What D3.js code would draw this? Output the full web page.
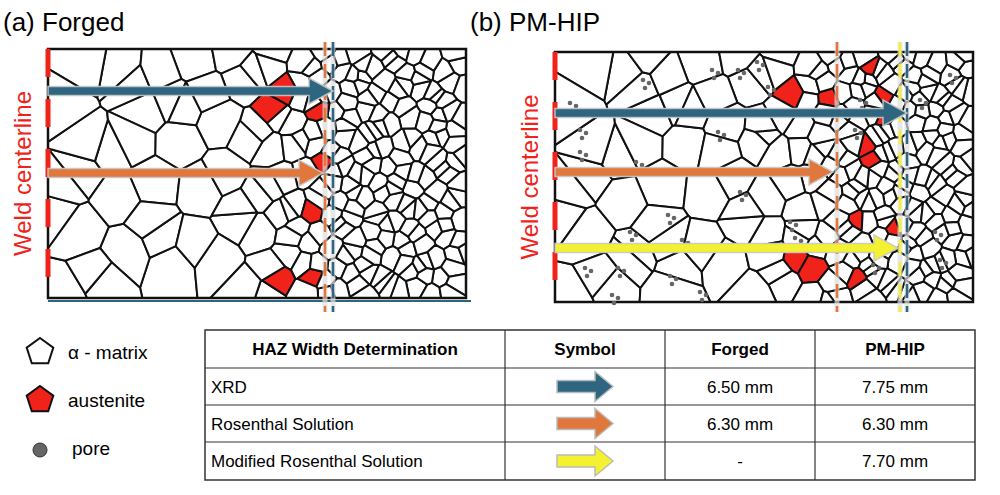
<!DOCTYPE html>
<html><head><meta charset="utf-8">
<script src="https://cdn.jsdelivr.net/npm/d3@7"></script>
<style>body{margin:0;background:#fff}svg{display:block}</style>
</head><body><svg width="1000" height="495"></svg>
<script>
const panels = [
  { id: "a", title: "(a) Forged", x0: 48, y0: 49, x1: 466, y1: 298, fineX: 338 },
  { id: "b", title: "(b) PM-HIP", x0: 555, y0: 52, x1: 973, y1: 302, fineX: 865 }
];
// arrows: [panel, colour key, y, end x]
const arrows = [
  ["a", "xrd", 91, 333], ["a", "ros", 173, 323],
  ["b", "xrd", 113, 907], ["b", "ros", 172, 833], ["b", "mod", 248, 898]
];
// dashed HAZ boundaries: [panel, colour key, x]
const bounds = [["a", "ros", 325], ["a", "xrd", 333], ["b", "ros", 837], ["b", "mod", 900], ["b", "xrd", 907]];
const colors = { xrd: "#2e6580", ros: "#e0773c", mod: "#f4f230" };
const austenite = {
  a: [[283, 80], [258, 100], [318, 105], [272, 155], [318, 165], [310, 210], [265, 240], [290, 270], [310, 278], [240, 298]],
  b: [[788, 85], [760, 95], [825, 100], [865, 72], [888, 92], [880, 125], [870, 143], [780, 158], [868, 165],
      [815, 215], [855, 222], [890, 232], [773, 240], [798, 270], [818, 278], [857, 278], [747, 298]]
};
const pores = [[570, 103], [643, 80], [580, 130], [580, 152], [636, 162], [718, 132], [712, 70], [738, 70], [757, 62],
  [768, 87], [740, 192], [668, 215], [630, 232], [682, 240], [790, 222], [795, 238], [670, 276], [618, 268], [860, 100],
  [855, 130], [920, 100], [950, 75], [940, 260], [935, 232], [873, 265], [585, 268], [700, 292], [612, 295]];
const legend = [["α - matrix", "#fff"], ["austenite", "#f0221a"], ["pore", "#666"]];
const tableHead = ["HAZ Width Determination", "Symbol", "Forged", "PM-HIP"];
const tableRows = [["XRD", "xrd", "6.50 mm", "7.75 mm"], ["Rosenthal Solution", "ros", "6.30 mm", "6.30 mm"],
  ["Modified Rosenthal Solution", "mod", "-", "7.70 mm"]];

const svg = d3.select("svg");
const font = "'Liberation Sans', Arial, sans-serif";

// deterministic Halton sequence for grain seeds (texture only)
const halton = (i, b) => { let f = 1, r = 0; while (i > 0) { f /= b; r += f * (i % b); i = Math.floor(i / b); } return r; };

const arrowPath = (x0, y, x1, w, hw, hl) =>
  `M${x0},${y - w / 2}L${x1 - hl},${y - w / 2}L${x1 - hl},${y - hw}L${x1},${y}L${x1 - hl},${y + hw}L${x1 - hl},${y + w / 2}L${x0},${y + w / 2}Z`;

panels.forEach(p => {
  const g = svg.append("g");
  g.append("text").attr("x", p.x0 - 45 + (p.id === "b" ? -40 : 0)).attr("y", 31)
    .attr("font-family", font).attr("font-size", 26).text(p.title);

  const seeds = [];
  const n = Math.round((p.x1 - p.x0) * (p.y1 - p.y0) / (p.id === "a" ? 215 : 190));
  for (let i = 1; i <= n; i++) {
    const x = p.x0 + halton(i, 2) * (p.x1 - p.x0), y = p.y0 + halton(i, 3) * (p.y1 - p.y0);
    const t = Math.max(0, Math.min(1, (x - (p.fineX - 150)) / 150));
    const keep = 0.15 + 0.85 * Math.pow(t, 2.2);
    if (halton(i, 5) < keep) seeds.push([x, y]);
  }
  const del = d3.Delaunay.from(seeds);
  const vor = del.voronoi([p.x0, p.y0, p.x1, p.y1]);
  const red = new Set(austenite[p.id].map(([x, y]) => del.find(x, y))
    .filter(i => Math.abs(d3.polygonArea(vor.cellPolygon(i))) < 750));
  g.append("g").selectAll("path").data(seeds).join("path")
    .attr("d", (d, i) => vor.renderCell(i))
    .attr("fill", (d, i) => red.has(i) ? "#f0221a" : "#fff")
    .attr("stroke", "#111").attr("stroke-width", 2).attr("stroke-linejoin", "round");
  g.append("rect").attr("x", p.x0).attr("y", p.y0).attr("width", p.x1 - p.x0).attr("height", p.y1 - p.y0)
    .attr("fill", "none").attr("stroke", "#111").attr("stroke-width", 2.5);

  if (p.id === "b") {
    const offs = [[0, 0], [6, 3], [2, 8]];
    g.append("g").selectAll("circle").data(pores.flatMap(([x, y]) => offs.map(([dx, dy]) => [x + dx, y + dy])))
      .join("circle").attr("cx", d => d[0]).attr("cy", d => d[1]).attr("r", 2.3).attr("fill", "#666");
  } else {
    g.append("line").attr("x1", p.x0).attr("x2", p.x1 + 5).attr("y1", p.y1 + 3).attr("y2", p.y1 + 3)
      .attr("stroke", "#2e6580").attr("stroke-width", 2);
  }

  // weld centerline
  g.append("line").attr("x1", p.x0).attr("x2", p.x0).attr("y1", p.y0).attr("y2", p.y1 - 15)
    .attr("stroke", "#f0221a").attr("stroke-width", 5).attr("stroke-dasharray", "28,22");
  g.append("text").attr("transform", `translate(${p.x0 - 17},${(p.y0 + p.y1) / 2}) rotate(-90)`)
    .attr("text-anchor", "middle").attr("font-family", font).attr("font-size", 24).attr("fill", "#f0221a")
    .text("Weld centerline");

  bounds.filter(b => b[0] === p.id).forEach(([, k, x]) => {
    g.append("line").attr("x1", x).attr("x2", x).attr("y1", 42).attr("y2", 312)
      .attr("stroke", "#ddd").attr("stroke-width", 5).attr("opacity", 0.7);
    g.append("line").attr("x1", x).attr("x2", x).attr("y1", 42).attr("y2", 312)
      .attr("stroke", colors[k]).attr("stroke-width", 2.5).attr("stroke-dasharray", "14,8");
  });
  arrows.filter(a => a[0] === p.id).forEach(([, k, y, x1]) => {
    g.append("path").attr("d", arrowPath(p.x0, y, x1, 9, 13, 24))
      .attr("fill", colors[k]).attr("stroke", "#c8c8c8").attr("stroke-width", 1.5).attr("stroke-opacity", 0.9);
  });
});

// legend
const pent = (cx, cy, r) => d3.range(5).map(i => {
  const a = -Math.PI / 2 + i * 2 * Math.PI / 5;
  return [cx + r * Math.cos(a), cy + r * Math.sin(a)];
});
legend.forEach(([label, fill], i) => {
  const cy = 352 + i * 48;
  if (i < 2) svg.append("polygon").attr("points", pent(40, cy, 14).join(" ")).attr("fill", fill)
    .attr("stroke", "#111").attr("stroke-width", 2);
  else svg.append("circle").attr("cx", 40).attr("cy", cy + 2).attr("r", 7).attr("fill", fill).attr("stroke", "#333");
  svg.append("text").attr("x", i === 2 ? 72 : 68).attr("y", cy + 7).attr("font-family", font).attr("font-size", 19).text(label);
});

// table
const colX = [205, 505, 665, 815, 975];
const rowY = [330, 368, 405, 442, 480];
const tg = svg.append("g");
tg.append("rect").attr("x", colX[0]).attr("y", rowY[0]).attr("width", colX[4] - colX[0]).attr("height", rowY[4] - rowY[0])
  .attr("fill", "none").attr("stroke", "#333").attr("stroke-width", 1.5);
colX.slice(1, 4).forEach(x => tg.append("line").attr("x1", x).attr("x2", x).attr("y1", rowY[0]).attr("y2", rowY[4]).attr("stroke", "#333").attr("stroke-width", 1.2));
rowY.slice(1, 4).forEach(y => tg.append("line").attr("x1", colX[0]).attr("x2", colX[4]).attr("y1", y).attr("y2", y).attr("stroke", "#333").attr("stroke-width", 1.2));
tableHead.forEach((h, j) => tg.append("text").attr("x", (colX[j] + colX[j + 1]) / 2).attr("y", rowY[0] + 25)
  .attr("text-anchor", "middle").attr("font-family", font).attr("font-weight", "bold").attr("font-size", 17).text(h));
tableRows.forEach((r, i) => {
  const y = (rowY[i + 1] + rowY[i + 2]) / 2;
  tg.append("text").attr("x", colX[0] + 6).attr("y", y + 6).attr("font-family", font).attr("font-size", 17).text(r[0]);
  const cx = (colX[1] + colX[2]) / 2;
  tg.append("path").attr("d", arrowPath(cx - 28, y, cx + 28, 12, 15, 18)).attr("fill", colors[r[1]])
    .attr("stroke", "#bbb").attr("stroke-width", 1.5);
  [2, 3].forEach(j => tg.append("text").attr("x", (colX[j] + colX[j + 1]) / 2).attr("y", y + 6)
    .attr("text-anchor", "middle").attr("font-family", font).attr("font-size", 17).text(r[j]));
});
</script></body></html>
